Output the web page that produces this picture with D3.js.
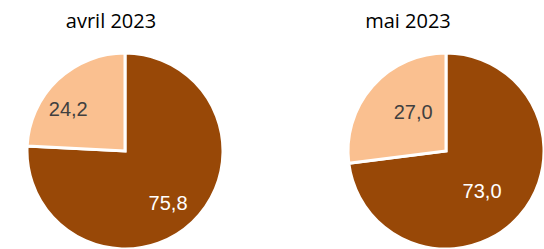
<!DOCTYPE html>
<html>
<head>
<meta charset="utf-8">
<script src="https://cdn.jsdelivr.net/npm/d3@7"></script>
<style>
  body { margin: 0; background: #fff; }
  svg { display: block; }
</style>
</head>
<body>
<div id="chart"></div>
<script>
// data
const months = ['avril 2023', 'mai 2023'];
const darkValues = [75.8, 73.0];
const lightValues = [24.2, 27.0];

const W = 544;
const H = 249;
const radius = 98;
const centers = [{ x: 125, y: 151 }, { x: 446, y: 151 }];
const titleX = [111, 408];
const colors = ['#984807', '#fac090'];
const labelColors = ['#ffffff', '#404040'];
// label placement (like excel "best fit"): fraction of radius and angle nudge in degrees, [dark, light]
const labelRatio = [[0.69, 0.72], [0.55, 0.52]];
const labelNudge = [[4, -10], [6.6, 8.4]];

const fmt = (v) => v.toFixed(1).replace('.', ',');

const svg = d3
  .select('#chart')
  .append('svg')
  .attr('width', W)
  .attr('height', H);

const pie = d3.pie().sort(null).value((d) => d);
const arc = d3.arc().innerRadius(0).outerRadius(radius);

months.forEach((m, i) => {
  const g = svg
    .append('g')
    .attr('transform', `translate(${centers[i].x},${centers[i].y})`);

  const arcs = pie([darkValues[i], lightValues[i]]);

  g.selectAll('path')
    .data(arcs)
    .enter()
    .append('path')
    .attr('d', arc)
    .attr('fill', (d, j) => colors[j])
    .attr('stroke', '#fff')
    .attr('stroke-width', 3)
    .attr('stroke-linejoin', 'miter');

  g.selectAll('text')
    .data(arcs)
    .enter()
    .append('text')
    .attr('transform', (d, j) => {
      const a = (d.startAngle + d.endAngle) / 2 + (labelNudge[i][j] * Math.PI) / 180;
      const r = radius * labelRatio[i][j];
      return `translate(${Math.sin(a) * r},${-Math.cos(a) * r})`;
    })
    .attr('text-anchor', 'middle')
    .attr('dy', '0.35em')
    .attr('font-family', 'Liberation Sans, Arial, sans-serif')
    .attr('font-size', 20)
    .attr('fill', (d, j) => labelColors[j])
    .text((d) => fmt(d.data));

  svg
    .append('text')
    .attr('x', titleX[i])
    .attr('y', 28)
    .attr('text-anchor', 'middle')
    .attr('font-family', 'Open Sans, Noto Sans, sans-serif')
    .attr('font-size', 20)
    .attr('fill', '#000')
    .text(m);
});
</script>
</body>
</html>
